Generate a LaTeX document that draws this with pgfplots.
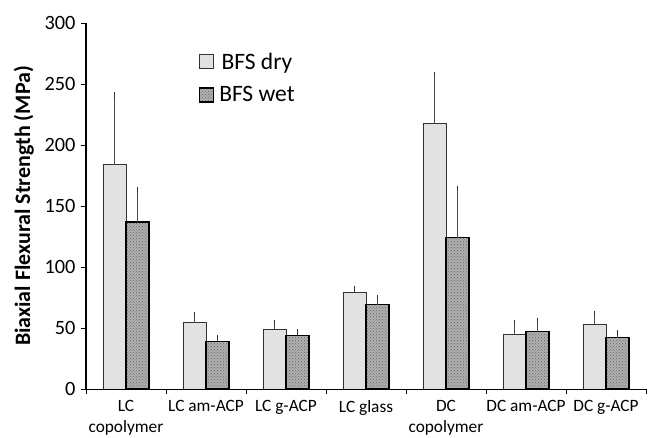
\documentclass[border=0pt]{standalone}
\usepackage{pgfplots}
\pgfplotsset{compat=1.18}
\usepackage{pgfplotstable}
\usepackage{fontspec}
\setmainfont{Carlito}
\usetikzlibrary{patterns}

% Biaxial flexural strength, mean and upper standard deviation (MPa)
\pgfplotstableread{
idx dry dryerr wet weterr
0   184  57   137  26
1   54.5 6    39   3
2   49   5    44   3
3   79.5 3    69   5.7
4   218  40   124  40.5
5   44.3 10   47   9
6   53   8.5  42   4
}\bfsdata

\definecolor{drygray}{HTML}{E2E2E2}
\definecolor{wetgray}{HTML}{B0B0B0}

\begin{document}
\begin{tikzpicture}[x=1pt,y=1pt]
\useasboundingbox (0,0) rectangle (649,438);
\begin{axis}[
  at={(86pt,49pt)}, anchor=south west,
  scale only axis, width=560pt, height=366pt,
  xmin=-0.5, xmax=6.5, ymin=0, ymax=300,
  axis lines*=left,
  y axis line style={line width=1.6pt},
  x axis line style={line width=0.8pt},
  tick style={black, line width=0.9pt},
  tick align=outside, major tick length=5pt,
  ytick={0,50,...,300},
  xtick={-0.5,0.5,...,6.5},
  x tick label as interval,
  xticklabels={LC\\copolymer, LC am-ACP, LC g-ACP, LC glass, DC\\copolymer, DC am-ACP, DC g-ACP},
  xticklabel style={align=center, font=\fontsize{17.3}{20.5}\selectfont, yshift=-3pt},
  yticklabel style={font=\fontsize{20.3}{22}\selectfont, xshift=-2pt},
  /pgf/number format/assume math mode=true,
  ylabel={\textbf{Biaxial Flexural Strength (MPa)}},
  ylabel style={at={(axis description cs:-0.111,0.5)}, anchor=center, font=\fontsize{22}{24}\selectfont},
  ybar=0pt, bar width=23pt,
  legend style={at={(axis description cs:0.196,0.93)}, anchor=north west,
    draw=none, fill=none, font=\fontsize{23.5}{25}\selectfont,
    row sep=12pt, column sep=3pt},
  legend image code/.code={\draw[#1] (0pt,-7pt) rectangle (14pt,7pt);},
  error bars/y dir=plus, error bars/y explicit,
  error bars/error bar style={line width=1.2pt, black!70},
  error bars/error mark options={line width=1.2pt, black!80, mark size=2.7pt},
]
\addplot[draw=black!80, line width=0.9pt, fill=drygray]
  table[x=idx, y=dry, y error=dryerr] {\bfsdata};
\addplot[draw=black, line width=1.3pt, fill=wetgray,
  postaction={pattern=crosshatch dots, pattern color=black!60}]
  table[x=idx, y=wet, y error=weterr] {\bfsdata};
\legend{BFS dry, BFS wet}
\end{axis}
\end{tikzpicture}
\end{document}
